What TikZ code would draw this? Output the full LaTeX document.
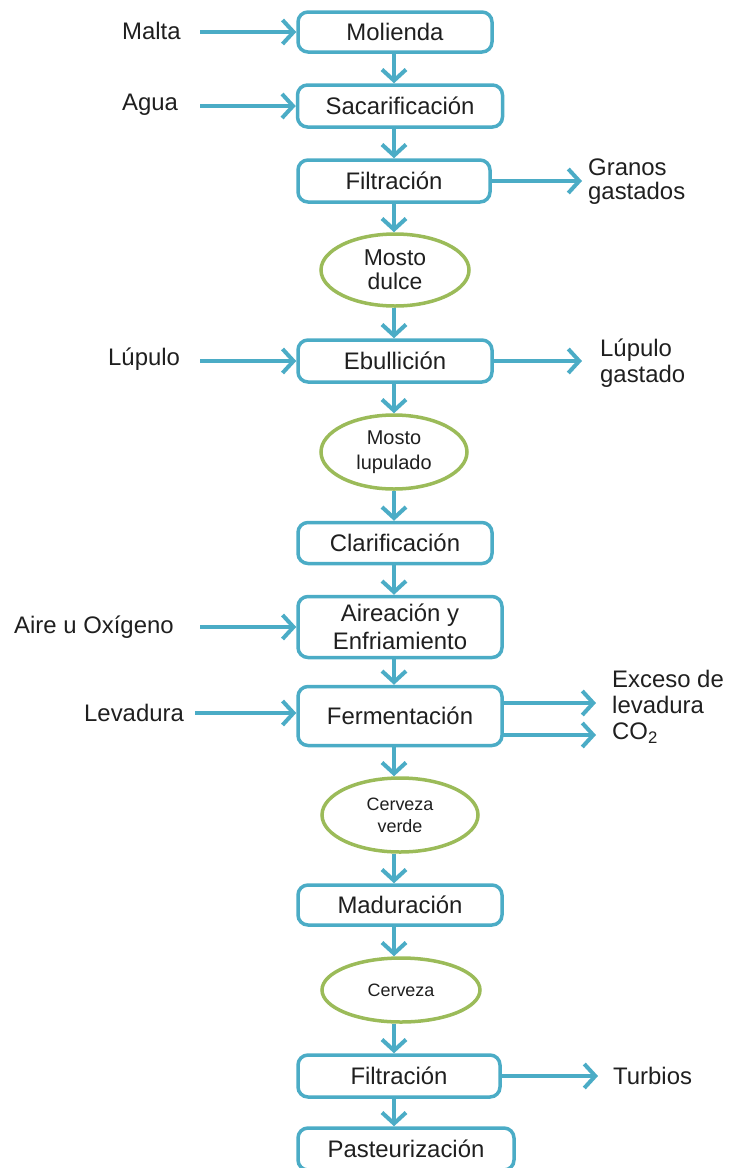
\documentclass[tikz,border=0pt]{standalone}
\usepackage{fontspec}
\setmainfont{Liberation Sans}
\usetikzlibrary{arrows.meta,shapes.geometric}
\definecolor{boxc}{HTML}{4BACC6}
\definecolor{ellc}{HTML}{9BBB59}
\definecolor{txtc}{HTML}{1F1F1F}
\tikzset{
  procbox/.style={draw=boxc, line width=3.5bp, rounded corners=10bp, fill=white,
    inner sep=0pt, align=center, text=txtc, font=\fontsize{24}{28}\selectfont},
  prodell/.style={ellipse, draw=ellc, line width=3.5bp, fill=white,
    inner sep=0pt, align=center, text=txtc},
  lbl/.style={inner sep=0pt, align=left, text=txtc, font=\fontsize{24}{26}\selectfont},
  arr/.style={draw=boxc, line width=4bp, -{Straight Barb[length=11bp,width=24bp]}}
}
\begin{document}
\begin{tikzpicture}[x=1bp,y=-1bp]
\useasboundingbox (0,0) rectangle (733,1168);
\clip (0,0) rectangle (733,1168);
\coordinate (mx) at (394,0);
\coordinate (sx) at (200,0);
% process boxes
\node[procbox, minimum width=194bp, minimum height=40bp] (mol) at (395,32) {Molienda};
\node[procbox, minimum width=205bp, minimum height=42bp] (sac) at (400,106) {Sacarificación};
\node[procbox, minimum width=192bp, minimum height=42bp] (fil) at (394,181) {Filtración};
\node[prodell, minimum width=148bp, minimum height=72bp, font=\fontsize{23}{24}\selectfont] (md) at (395,270) {Mosto\\dulce};
\node[procbox, minimum width=194bp, minimum height=42bp] (ebu) at (395,361) {Ebullición};
\node[prodell, minimum width=146bp, minimum height=74bp, font=\fontsize{20}{25}\selectfont] (ml) at (394,452) {Mosto\\lupulado};
\node[procbox, minimum width=194bp, minimum height=41bp] (cla) at (395,543) {Clarificación};
\node[procbox, minimum width=204bp, minimum height=61bp] (air) at (400,627) {Aireación y\\Enfriamiento};
\node[procbox, minimum width=204bp, minimum height=59bp] (fer) at (400,716) {Fermentación};
\node[prodell, minimum width=156bp, minimum height=74bp, font=\fontsize{18}{22}\selectfont] (cv) at (400,815) {Cerveza\\verde};
\node[procbox, minimum width=204bp, minimum height=40bp] (mad) at (400,905) {Maduración};
\node[prodell, minimum width=158bp, minimum height=64bp, font=\fontsize{18}{22}\selectfont] (cz) at (401,990) {Cerveza};
\node[procbox, minimum width=202bp, minimum height=42bp] (fil2) at (399,1076) {Filtración};
\node[procbox, minimum width=216bp, minimum height=42bp] (pas) at (406,1149) {Pasteurización};
% main flow
\draw[arr] (mol.south -| mx) -- (sac.north -| mx);
\draw[arr] (sac.south -| mx) -- (fil.north -| mx);
\draw[arr] (fil.south -| mx) -- (md.north -| mx);
\draw[arr] (md.south -| mx) -- (ebu.north -| mx);
\draw[arr] (ebu.south -| mx) -- (ml.north -| mx);
\draw[arr] (ml.south -| mx) -- (cla.north -| mx);
\draw[arr] (cla.south -| mx) -- (air.north -| mx);
\draw[arr] (air.south -| mx) -- (fer.north -| mx);
\draw[arr] (fer.south -| mx) -- (cv.north -| mx);
\draw[arr] (cv.south -| mx) -- (mad.north -| mx);
\draw[arr] (mad.south -| mx) -- (cz.north -| mx);
\draw[arr] (cz.south -| mx) -- (fil2.north -| mx);
\draw[arr] (fil2.south -| mx) -- (pas.north -| mx);
% inputs
\node[lbl, anchor=west] (malta) at (122,31) {Malta};
\node[lbl, anchor=west] (agua) at (122,105) {Agua};
\node[lbl, anchor=west] (lup) at (108,359) {Lúpulo};
\node[lbl, anchor=west] (aire) at (14,627) {Aire u Oxígeno};
\node[lbl, anchor=west] (lev) at (84,713) {Levadura};
\draw[arr] (mol.west -| sx) -- (mol.west);
\draw[arr] (sac.west -| sx) -- (sac.west);
\draw[arr] (ebu.west -| sx) -- (ebu.west);
\draw[arr] (air.west -| sx) -- (air.west);
\coordinate (lx) at (195,713);
\draw[arr] (lx) -- (lx -| fer.west);
% outputs
\node[lbl, anchor=west, font=\fontsize{24}{24}\selectfont] (gran) at (588,182) {Granos\\gastados};
\node[lbl, anchor=west] (lupg) at (600,363) {Lúpulo\\gastado};
\node[lbl, anchor=west] (exc) at (612,707) {Exceso de\\levadura\\CO\textsubscript{2}};
\node[lbl, anchor=west] (turb) at (613,1076) {Turbios};
\draw[arr, shorten >=6bp] (fil.east) -- (fil.east -| gran.west);
\draw[arr, shorten >=18bp] (ebu.east) -- (ebu.east -| lupg.west);
\coordinate (e1) at (502,703);
\coordinate (e2) at (502,735);
\draw[arr, shorten >=16bp] (e1) -- (e1 -| exc.west);
\draw[arr, shorten >=16bp] (e2) -- (e2 -| exc.west);
\draw[arr, shorten >=15bp] (fil2.east) -- (fil2.east -| turb.west);
\end{tikzpicture}
\end{document}
